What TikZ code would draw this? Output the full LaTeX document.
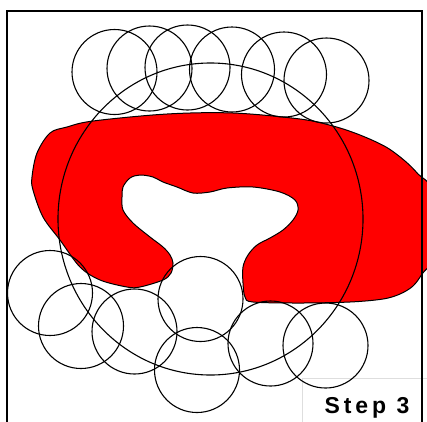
\documentclass[tikz,border=0pt]{standalone}
\usepackage{fontspec}
\newfontfamily\stepfont{Liberation Sans}[LetterSpace=17]
\begin{document}
\begin{tikzpicture}[x=1pt,y=-1pt,
  ring/.style={draw=black,line width=1.1pt},
  blob/.style={draw=black,line width=1pt,fill=red},
  frameline/.style={draw=black,line width=1.6pt},
  stepbox/.style={draw=black!13,line width=0.9pt}]
\useasboundingbox (0,0) rectangle (427,421);
\clip (0,0) rectangle (427,421);
% red shape
\path[blob] plot[smooth cycle,tension=0.55] coordinates {
 (93,121) (167,114) (233,113) (300,119) (333,126) (360,135) (386,147) (405,161) (418,174) (432,192)
 (432,256) (422,274) (413,286) (400,294) (383,299) (350,302) (300,303) (253,302) (245,297) (243,283) (243,267)
 (248,255) (257,245) (270,238) (283,230) (293,220) (298,210) (295,200) (280,192) (253,187) (227,188) (210,192)
 (193,193) (177,187) (163,182) (153,177) (140,175) (130,178) (123,187) (122,197) (123,210) (133,223) (150,237)
 (163,247) (170,255) (173,263) (171,273) (163,280) (140,287) (127,287) (100,280) (80,267) (60,240) (43,217)
 (33,190) (32,177) (37,153) (50,133) (67,127)};
% step box
\coordinate (sb1) at (302,430);
\coordinate (sb2) at (302,378);
\coordinate (sb3) at (430,378);
\draw[stepbox] (sb1) -- (sb2) -- (sb3);
% frame
\coordinate (f1) at (7,430);
\coordinate (f2) at (7,11);
\coordinate (f3) at (422,11);
\coordinate (f4) at (422,430);
\draw[frameline] (f1) -- (f2) -- (f3) -- (f4);
% big circle
\draw[ring] (210.5,219) ellipse [x radius=152.5pt,y radius=156pt];
% top row
\foreach \cx/\cy in {114.5/72,149.5/68.5,187.5/67.5,232/69.5,284/74.5,326.5/80.5}
  \draw[ring] (\cx,\cy) circle [radius=42.5pt];
% bottom group
\foreach \cx/\cy in {50/293,81/326,134.5/331.5,200.5/299,197/370,270.5/343.5,325.5/345.5}
  \draw[ring] (\cx,\cy) circle [radius=42.5pt];
\node[anchor=base,inner sep=0pt,font=\stepfont\bfseries\fontsize{23}{25}\selectfont] (lbl) at (367,413.5) {Step 3};
\end{tikzpicture}
\end{document}
